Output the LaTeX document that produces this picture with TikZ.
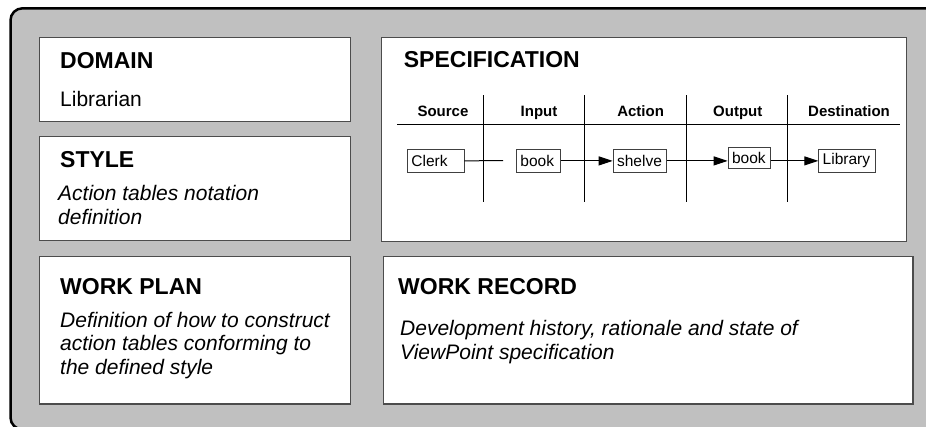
\documentclass[tikz,border=0pt]{standalone}
\usepackage{fontspec}
\setmainfont{Liberation Sans}
\usetikzlibrary{arrows.meta}
\definecolor{panelgray}{HTML}{C0C0C0}
\begin{document}
\begin{tikzpicture}[x=1pt,y=-1pt,
  panel/.style={draw=black!70, line width=1.3pt, fill=white, anchor=north west, inner sep=0pt},
  head/.style={anchor=base west, inner sep=0pt, font=\fontsize{23}{27}\selectfont\bfseries},
  body/.style={anchor=base west, inner sep=0pt, font=\fontsize{21}{25}\selectfont},
  ibody/.style={anchor=base west, inner sep=0pt, align=left, font=\fontsize{21}{23.3}\selectfont\itshape},
  colhead/.style={anchor=base, inner sep=0pt, font=\fontsize{15}{18}\selectfont\bfseries},
  tbox/.style={draw=black!75, line width=0.8pt, fill=white, minimum height=23pt, inner xsep=4pt, inner ysep=0pt, align=left, font=\fontsize{15.5}{18}\selectfont, anchor=north west},
  tline/.style={line width=1pt},
  flow/.style={line width=1pt, -{Triangle[length=14pt,width=9pt]}},
]
\useasboundingbox (0,0) rectangle (926,426);
\clip (0,0) rectangle (926,426);
% outer panel
\draw[line width=2.5pt, fill=panelgray, rounded corners=12pt] (10.5,8.3) rectangle (960,429.5);
% boxes
\node[panel, minimum width=310.7pt, minimum height=84pt] (domain) at (39,36.7) {};
\node[panel, minimum width=310.7pt, minimum height=104pt] (style) at (39,136) {};
\node[panel, minimum width=310.7pt, minimum height=147.6pt] (workplan) at (39,255.7) {};
\node[panel, minimum width=525pt, minimum height=204pt] (spec) at (381,37) {};
\node[panel, minimum width=529.4pt, minimum height=147.3pt] (workrec) at (383,256) {};
% texts
\node[head] (domainT) at (60,68) {DOMAIN};
\node[body] (domainB) at (60,106) {Librarian};
\node[head] (styleT) at (60,167) {STYLE};
\node[ibody] (styleB) at (58,224) {Action tables notation\\definition};
\node[head] (wpT) at (60,294.3) {WORK PLAN};
\node[ibody] (wpB) at (60,374) {Definition of how to construct\\action tables conforming to\\the defined style};
\node[head] (specT) at (403.7,67.3) {SPECIFICATION};
\node[head] (wrT) at (398,294.5) {WORK RECORD};
\node[ibody, font=\fontsize{21}{24}\selectfont\itshape] (wrB) at (400,359) {Development history, rationale and state of\\ViewPoint specification};
% table
\coordinate (hl) at (397,124.3);
\coordinate (hr) at (900,124.3);
\draw[tline] (hl) -- (hr);
\foreach \x [count=\i] in {483.5,584.5,686.5,787.5}{
  \coordinate (vt\i) at (\x,95);
  \coordinate (vb\i) at (\x,201.7);
  \draw[tline] (vt\i) -- (vb\i);
}
\node[colhead] (hSource) at (443,116) {Source};
\node[colhead] (hInput) at (539,116) {Input};
\node[colhead] (hAction) at (640.6,116) {Action};
\node[colhead] (hOutput) at (737.8,116) {Output};
\node[colhead] (hDest) at (849,116) {Destination};
% table boxes
\node[tbox, text width=48.5pt] (clerk) at (407,149) {Clerk};
\node[tbox, text width=36pt] (book1) at (516,149) {book};
\node[tbox, text width=45pt] (shelve) at (612.7,149) {shelve};
\node[tbox, text width=34.5pt, minimum height=21pt] (book2) at (727.7,147.3) {book};
\node[tbox, text width=48.5pt] (library) at (818.3,149) {Library};
% connectors
\coordinate (cend) at (503,160.5);
\draw[tline] (clerk.east) -- (cend);
\draw[flow] (book1.east) -- (shelve.west);
\draw[flow] (shelve.east) -- (shelve.east -| book2.west);
\draw[flow] (book2.east |- shelve.east) -- (library.west |- shelve.east);
\end{tikzpicture}
\end{document}
